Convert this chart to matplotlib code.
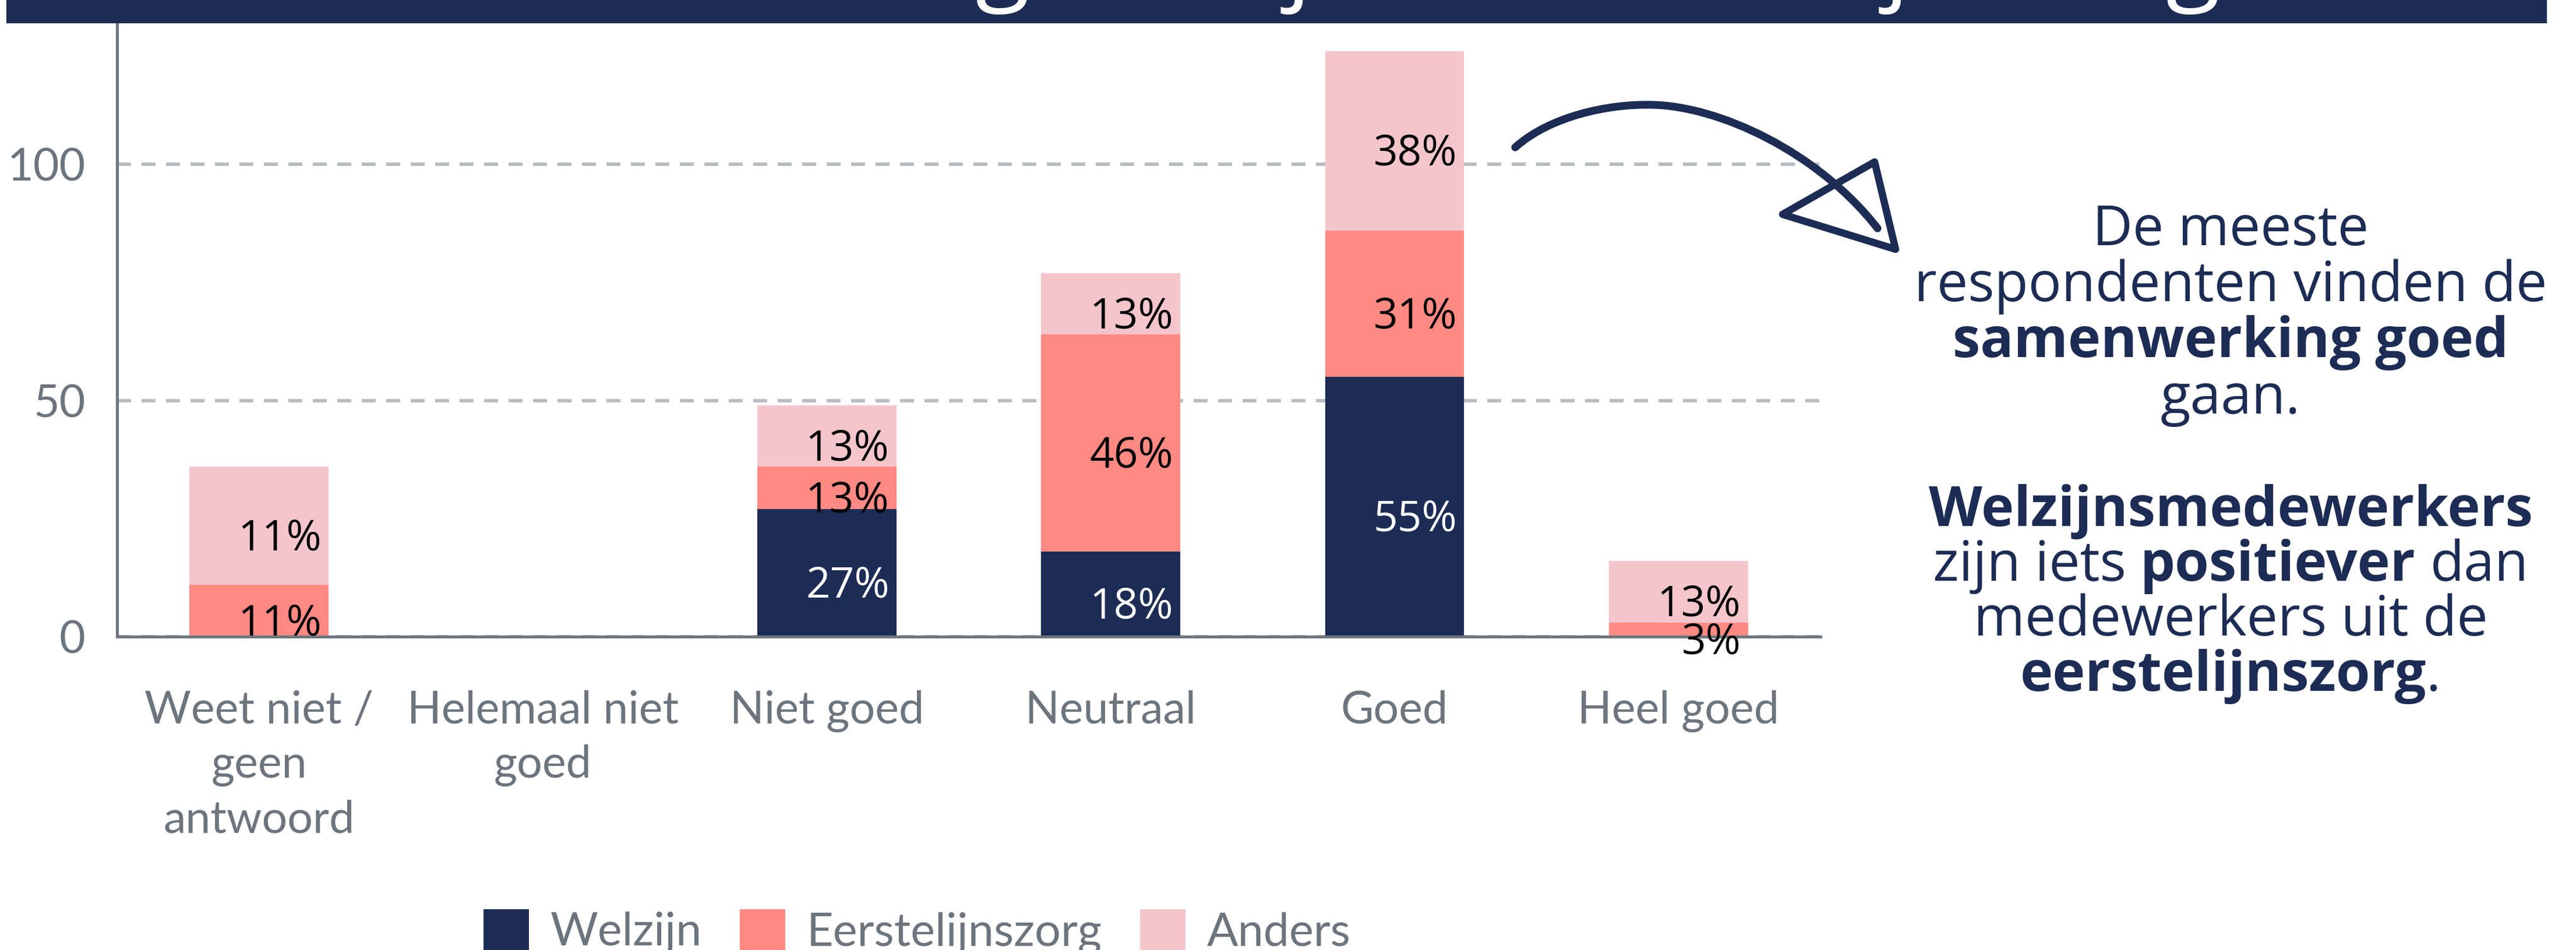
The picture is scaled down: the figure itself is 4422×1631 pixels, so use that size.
import matplotlib
matplotlib.use("Agg")
import matplotlib.pyplot as plt
from matplotlib.patches import Rectangle, PathPatch
from matplotlib.path import Path
import numpy as np

# ---------------- data ----------------
categories = ["Weet niet /\ngeen\nantwoord", "Helemaal niet\ngoed", "Niet goed",
              "Neutraal", "Goed", "Heel goed"]
series_names = ["Welzijn", "Eerstelijnszorg", "Anders"]
welzijn = [0, 0, 27, 18, 55, 0]
eerstelijnszorg = [11, 0, 9, 46, 31, 3]
anders = [25, 0, 13, 13, 38, 13]
labels_welzijn = ["", "", "27%", "18%", "55%", ""]
labels_eerstelijnszorg = ["11%", "", "13%", "46%", "31%", "3%"]
labels_anders = ["11%", "", "13%", "13%", "38%", "13%"]
yticks = [0, 50, 100]
title = "De samenwerking welzijn en eerstelijnszorg"
note_lines = [
    [("De meeste", False)],
    [("respondenten vinden de", False)],
    [("samenwerking goed", True)],
    [("gaan.", False)],
    [],
    [("Welzijnsmedewerkers", True)],
    [("zijn iets ", False), ("positiever", True), (" dan", False)],
    [("medewerkers uit de", False)],
    [("eerstelijnszorg", True), (".", False)],
]

# ---------------- style ----------------
W, H, DPI = 4422, 1631, 300
NAVY = "#1c2c54"
SALMON = "#ff8a84"
PINK = "#f4c6cc"
GREY = "#6c757d"
AXIS = "#6e767e"
GRID = "#b8bbbf"
OPEN = "Open Sans"
LATO = "Lato"

fig = plt.figure(figsize=(W / DPI, H / DPI), dpi=DPI)
fig.patch.set_facecolor("white")


def fx(px):
    return px / W


def fy(py):
    return 1 - py / H


ax = fig.add_axes([fx(201), fy(1093), fx(3125) - fx(201), fy(39) - fy(1093)])
x = np.arange(len(categories))
bw = 0.49
bottom2 = np.array(welzijn)
bottom3 = bottom2 + np.array(eerstelijnszorg)
b1 = ax.bar(x, welzijn, bw, color=NAVY, zorder=2)
b2 = ax.bar(x, eerstelijnszorg, bw, bottom=bottom2, color=SALMON, zorder=2)
b3 = ax.bar(x, anders, bw, bottom=bottom3, color=PINK, zorder=2)

ax.set_xlim(-0.5, 5.5)
ax.set_ylim(0, 130)

# segment labels
for vals, bots, labs, col in [(welzijn, np.zeros(6), labels_welzijn, "white"),
                              (eerstelijnszorg, bottom2, labels_eerstelijnszorg, "black"),
                              (anders, bottom3, labels_anders, "black")]:
    for i in range(len(categories)):
        if vals[i] > 0 and labs[i]:
            ax.annotate(labs[i], (x[i] + bw / 2 - 0.025, bots[i] + vals[i] / 2),
                        xytext=(0, -5.5), textcoords="offset points",
                        ha="right", va="center", color=col,
                        fontsize=17.5, family=OPEN, zorder=3)

# axes styling
for s in ["top", "right"]:
    ax.spines[s].set_visible(False)
for s in ["left", "bottom"]:
    ax.spines[s].set_color(AXIS)
    ax.spines[s].set_linewidth(1.2)
ax.set_yticks(yticks)
ax.set_yticklabels([str(v) for v in yticks], family=LATO, fontsize=18.5, color=GREY)
ax.set_xticks(x)
ax.set_xticklabels(categories, family=LATO, fontsize=18.5, color=GREY, linespacing=1.39)
ax.tick_params(axis="y", length=0, pad=13)
ax.tick_params(axis="x", length=0, pad=22)
ax.yaxis.grid(True, color=GRID, linewidth=1.4, linestyle=(0, (4.1, 3.1)))
ax.set_axisbelow(True)

# legend
fig.legend([b1, b2, b3], series_names, loc="upper left",
           bbox_to_anchor=(fx(830), fy(1561)), ncol=3, frameon=False,
           borderpad=0, borderaxespad=0, handlelength=0.99, handleheight=0.99,
           handletextpad=0.46, columnspacing=0.82,
           prop={"family": LATO, "size": 19.0}, labelcolor=GREY)

# title bar (cropped)
fig.add_artist(Rectangle((fx(11), fy(40)), fx(4372) - fx(11), fy(0) - fy(40),
                         transform=fig.transFigure, facecolor=NAVY, edgecolor="none", zorder=5))

renderer = fig.canvas.get_renderer()


def text_width(s, **kw):
    t = fig.text(0, 0, s, **kw)
    w = t.get_window_extent(renderer).width
    t.remove()
    return w


tk = dict(family=OPEN, fontsize=40)
wg = text_width("g", **tk)
c_first = text_width("De samenwerkin", **tk) + wg / 2
c_last = text_width(title, **tk) - wg / 2
scale = (3765 - 1720) / (c_last - c_first)
tsize = 40 * scale
x0 = 1722 - c_first * scale
fig.text(fx(x0), fy(-16), title, family=OPEN, fontsize=tsize, color="white",
         ha="left", va="baseline", zorder=6)

# annotation text
NOTE_SIZE = 22.8
cx = 3829
baselines = [421, 517, 613, 710, None, 903, 997, 1091, 1186]
space_w = (text_width("n n", family=OPEN, fontsize=NOTE_SIZE)
           - text_width("nn", family=OPEN, fontsize=NOTE_SIZE))
for segs, yb in zip(note_lines, baselines):
    if not segs:
        continue
    pieces = []
    total = 0
    for s, bold in segs:
        lead = len(s) - len(s.lstrip(" "))
        trail = len(s) - len(s.rstrip(" "))
        core = s.strip(" ")
        w = text_width(core, family=OPEN, fontsize=NOTE_SIZE,
                       fontweight="bold" if bold else "normal")
        pieces.append((core, bold, lead * space_w, w, trail * space_w))
        total += lead * space_w + w + trail * space_w
    cur = cx - total / 2
    for core, bold, lw_, w, tw in pieces:
        cur += lw_
        fig.text(fx(cur), fy(yb), core, family=OPEN, fontsize=NOTE_SIZE,
                 fontweight="bold" if bold else "normal", color=NAVY,
                 ha="left", va="baseline")
        cur += w + tw

# hand-drawn arrow
P = lambda px, py: (fx(px), fy(py))
curve = Path([P(2601, 253), P(2660, 200), P(2760, 178), P(2836, 180),
              P(2950, 182), P(3120, 260), P(3223, 392)],
             [Path.MOVETO, Path.CURVE4, Path.CURVE4, Path.CURVE4,
              Path.CURVE4, Path.CURVE4, Path.CURVE4])
fig.add_artist(PathPatch(curve, transform=fig.transFigure, facecolor="none",
                         edgecolor=NAVY, linewidth=3.2, capstyle="round"))
head = Path([P(3218, 278), P(3060, 368), P(3254, 428), P(3218, 278)],
            [Path.MOVETO, Path.LINETO, Path.LINETO, Path.CLOSEPOLY])
fig.add_artist(PathPatch(head, transform=fig.transFigure, facecolor="none",
                         edgecolor=NAVY, linewidth=3.0, joinstyle="round"))

fig.savefig("out.png", dpi=DPI, facecolor="white")
